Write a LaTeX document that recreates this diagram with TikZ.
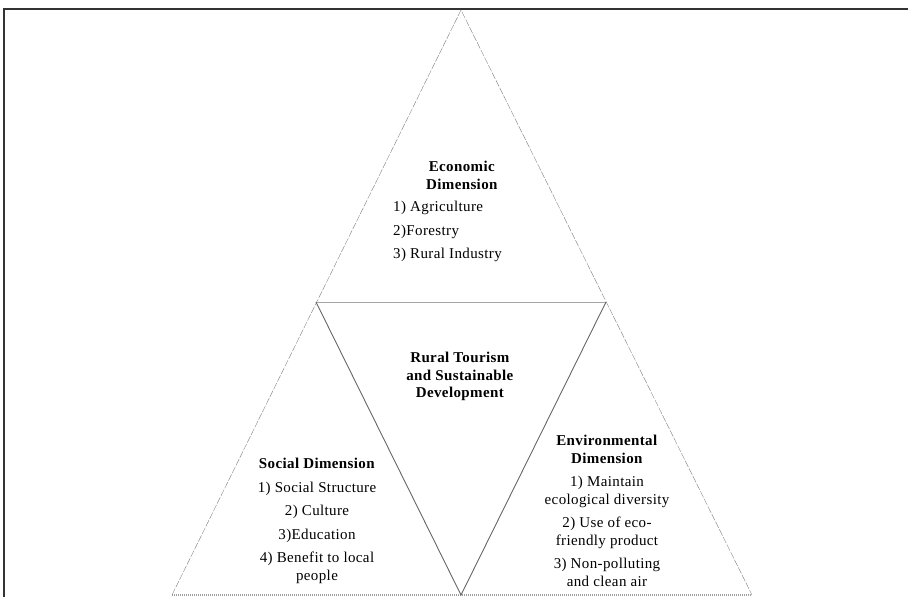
\documentclass[tikz,border=0pt]{standalone}
\usepackage{fontspec}
\setmainfont{Liberation Serif}[LetterSpace=2.5]
\usepackage{tikz}
\usetikzlibrary{positioning}
\tikzset{
  outerside/.style={gray, thin, dash pattern=on 7pt off 1.5pt},
  baseside/.style={gray!75, line width=2pt, dash pattern=on 1pt off 1pt},
  innerside/.style={gray!80!black, line width=0.9pt},
  dimtext/.style={inner sep=0pt, align=center, font=\fontsize{15}{17.5}\selectfont},
}
\begin{document}
\begin{tikzpicture}[x=1pt, y=-1pt]
    \useasboundingbox (0,0) rectangle (908,597);
    %%Frame
    \draw[gray!40!black, line width=1.3pt] (4,597) -- (4,9) -- (908,9);
    %%Corners
    \coordinate (apex) at (461,10);
    \coordinate (baseL) at (172,595);
    \coordinate (baseR) at (752,595);
    \coordinate (midL) at (316,302);
    \coordinate (midR) at (606,302);
    \coordinate (midB) at (461,595);
    %%Big triangle
    \draw[outerside] (baseL) -- (apex) -- (baseR);
    \draw[baseside] (baseL) -- (baseR);
    %%Inner triangle
    \draw[innerside, gray!70] (midL) -- (midR);
    \draw[innerside] (midL) -- (midB) -- (midR);
    %%Texts
    \node[dimtext, anchor=north] (econ) at (462,161) {\textbf{Economic}\\\textbf{Dimension}};
    \node[dimtext, anchor=north west, align=left] (econlist) at (393,201)
      {1) Agriculture\\[6pt]2)Forestry\\[6pt]3) Rural Industry};
    \node[dimtext, anchor=north] (core) at (460,352)
      {\textbf{Rural Tourism}\\\textbf{and Sustainable}\\\textbf{Development}};
    \node[dimtext, anchor=north] (social) at (317,458)
      {\textbf{Social Dimension}\\[6pt]1) Social Structure\\[6pt]2) Culture\\[6pt]3)Education\\[6pt]4) Benefit to local\\people};
    \node[dimtext, anchor=north] (env) at (607,435)
      {\textbf{Environmental}\\\textbf{Dimension}\\[6pt]1) Maintain\\ecological diversity\\[6pt]2) Use of eco-\\friendly product\\[6pt]3) Non-polluting\\and clean air};
\end{tikzpicture}
\end{document}
